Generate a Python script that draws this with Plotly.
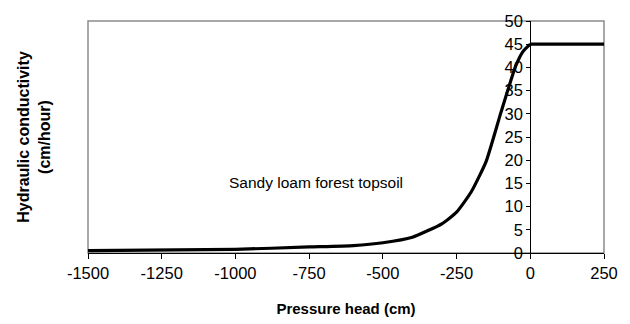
import plotly.graph_objects as go

pressure_head = [-1500, -1000, -750, -600, -500, -400, -300, -250, -200, -150, -100, -50, -25, 0, 250]
conductivity = [0.5, 0.8, 1.3, 1.6, 2.2, 3.4, 6.3, 8.8, 13.2, 19.7, 30.2, 40.2, 43.4, 45, 45]
x_ticks = [-1500, -1250, -1000, -750, -500, -250, 0, 250]
x_tick_labels = ["-1500", "-1250", "-1000", "-750", "-500", "-250", "0", "250"]
y_ticks = [0, 5, 10, 15, 20, 25, 30, 35, 40, 45, 50]

x_range = [-1500, 250]
y_range = [0, 50]
font = "Liberation Sans, Arial, sans-serif"

i0 = pressure_head.index(0)

fig = go.Figure()
fig.add_trace(go.Scatter(x=pressure_head[:i0 + 1], y=conductivity[:i0 + 1], mode="lines",
                         line=dict(color="black", width=3.2, shape="spline", smoothing=0.5),
                         showlegend=False, hoverinfo="skip"))
fig.add_trace(go.Scatter(x=pressure_head[i0:], y=conductivity[i0:], mode="lines",
                         line=dict(color="black", width=3.2),
                         showlegend=False, hoverinfo="skip"))

fig.add_annotation(x=-726, y=15.1, text="Sandy loam forest topsoil", showarrow=False,
                   font=dict(family=font, size=15.5, color="black"))

fig.add_shape(type="rect", xref="paper", yref="paper", x0=0, x1=1, y0=0, y1=1,
              line=dict(color="#8c8c8c", width=1.5), layer="below")

fig.update_layout(
    width=630, height=324,
    margin=dict(l=88, r=26, t=21, b=71, autoexpand=False),
    plot_bgcolor="white", paper_bgcolor="white",
    font=dict(family=font, size=16.5, color="black"),
    xaxis=dict(range=x_range, tickvals=x_ticks, ticktext=x_tick_labels, showgrid=False, zeroline=False,
               showline=True, linecolor="black", linewidth=1.2, automargin=False,
               ticks="outside", ticklen=5, tickcolor="black",
               title=dict(text="<b>Pressure head (cm)</b>", font=dict(size=15), standoff=22)),
    yaxis=dict(range=y_range, tickvals=y_ticks, showgrid=False, zeroline=False, automargin=False,
               anchor="free", position=(0 - x_range[0]) / (x_range[1] - x_range[0]),
               showline=True, linecolor="black", linewidth=1.2,
               ticks="outside", ticklen=4, tickcolor="black", ticklabelstandoff=0),
)

fig.add_annotation(xref="paper", yref="paper", x=-0.105, y=0.5, xanchor="center", yanchor="middle",
                   text="<b>Hydraulic conductivity</b><br><b>(cm/hour)</b>", textangle=-90,
                   showarrow=False, font=dict(family=font, size=16, color="black"))

fig.write_html("out.html", config={"displayModeBar": False},
               post_script="document.body.style.margin='0';")
